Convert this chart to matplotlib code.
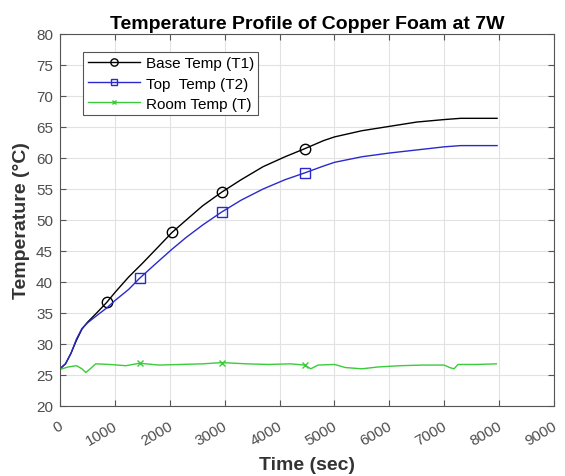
# -*- coding: utf-8 -*-
import numpy as np
import matplotlib
matplotlib.use("Agg")
import matplotlib.pyplot as plt
import matplotlib.transforms as mtransforms

plt.rcParams['font.family'] = ['Liberation Sans', 'DejaVu Sans']

# 讀取自圖片的數據
t_base = [0, 100, 200, 300, 400, 500, 700, 850, 1000, 1250, 1500, 1750, 2042, 2300,
          2600, 2948, 3300, 3700, 4100, 4459, 4800, 5000, 5500, 6000, 6500, 7000, 7300, 7963]
T_base = [26.0, 26.8, 28.5, 30.6, 32.4, 33.5, 35.3, 36.7, 38.3, 40.8, 43.0, 45.3, 48.0, 50.0,
          52.3, 54.5, 56.5, 58.6, 60.2, 61.5, 62.8, 63.4, 64.4, 65.1, 65.8, 66.2, 66.4, 66.4]
base_marks = [7, 12, 15, 19]

t_top = [0, 100, 200, 300, 400, 500, 700, 850, 1000, 1250, 1450, 1750, 2042, 2300,
         2600, 2948, 3300, 3700, 4100, 4459, 4800, 5000, 5500, 6000, 6500, 7000, 7300, 7963]
T_top = [26.0, 26.8, 28.5, 30.8, 32.5, 33.4, 34.8, 35.8, 37.0, 38.8, 40.6, 43.0, 45.3, 47.2,
         49.2, 51.3, 53.2, 55.0, 56.5, 57.6, 58.7, 59.3, 60.2, 60.8, 61.3, 61.8, 62.0, 62.0]
top_marks = [10, 15, 19]

t_room = [0, 150, 300, 400, 470, 550, 650, 900, 1200, 1450, 1800, 2200, 2600, 2948, 3400,
          3800, 4200, 4459, 4570, 4700, 5000, 5200, 5500, 5800, 6200, 6600, 7000, 7100,
          7180, 7250, 7600, 7950]
T_room = [25.9, 26.3, 26.5, 26.0, 25.4, 26.0, 26.8, 26.7, 26.5, 26.9, 26.6, 26.7, 26.8, 27.0,
          26.8, 26.7, 26.8, 26.6, 26.0, 26.6, 26.7, 26.2, 26.0, 26.3, 26.5, 26.6, 26.6, 26.2,
          26.0, 26.7, 26.7, 26.8]
room_marks = [9, 13, 17]

fig = plt.figure(figsize=(5.65, 4.77), dpi=100)
ax = fig.add_axes([60/565, 1-407/477, 494/565, 372/477])

ax.plot(t_base, T_base, color="black", lw=1.0, marker="o", ms=7.5, mfc="none",
        markevery=base_marks, label="Base Temp (T1)")
ax.plot(t_top, T_top, color="#2a2acc", lw=1.0, marker="s", ms=7, mfc="none",
        markevery=top_marks, label="Top  Temp (T2)")
ax.plot(t_room, T_room, color="#3acc3a", lw=1.0, marker="x", ms=5,
        markevery=room_marks, label="Room Temp (T)")

ax.set_xlim(0, 9000)
ax.set_ylim(20, 80)
ax.set_xticks(np.arange(0, 9001, 1000))
ax.set_yticks(np.arange(20, 81, 5))
ax.grid(True, color="#e2e2e2", lw=0.8)
ax.set_axisbelow(True)
ax.tick_params(direction="in", top=True, right=True, labelsize=11,
               labelcolor="#4d4d4d", color="#555555", length=4)
ax.tick_params(axis="x", pad=9)
ax.tick_params(axis="y", pad=5)
shift = mtransforms.ScaledTranslation(5/100, 0, fig.dpi_scale_trans)
for lab in ax.get_xticklabels():
    lab.set_rotation(30)
    lab.set_ha("right")
    lab.set_transform(lab.get_transform() + shift)
for s in ax.spines.values():
    s.set_color("#555555")

ax.set_title("Temperature Profile of Copper Foam at 7W", fontsize=14, fontweight="bold", pad=4)
ax.set_xlabel("Time (sec)", fontsize=14, fontweight="bold", color="#333333", labelpad=6)
ax.set_ylabel("Temperature (°C)", fontsize=14, fontweight="bold", color="#333333", labelpad=4)

leg = ax.legend(loc="upper left", bbox_to_anchor=(0.0466, 0.952), fontsize=11,
                fancybox=False, edgecolor="#555555", framealpha=1,
                handlelength=3.4, borderaxespad=0, labelspacing=0.4,
                borderpad=0.3, handletextpad=0.4, markerscale=0.7)
leg.get_frame().set_linewidth(0.8)

plt.savefig("out.png", dpi=100)
